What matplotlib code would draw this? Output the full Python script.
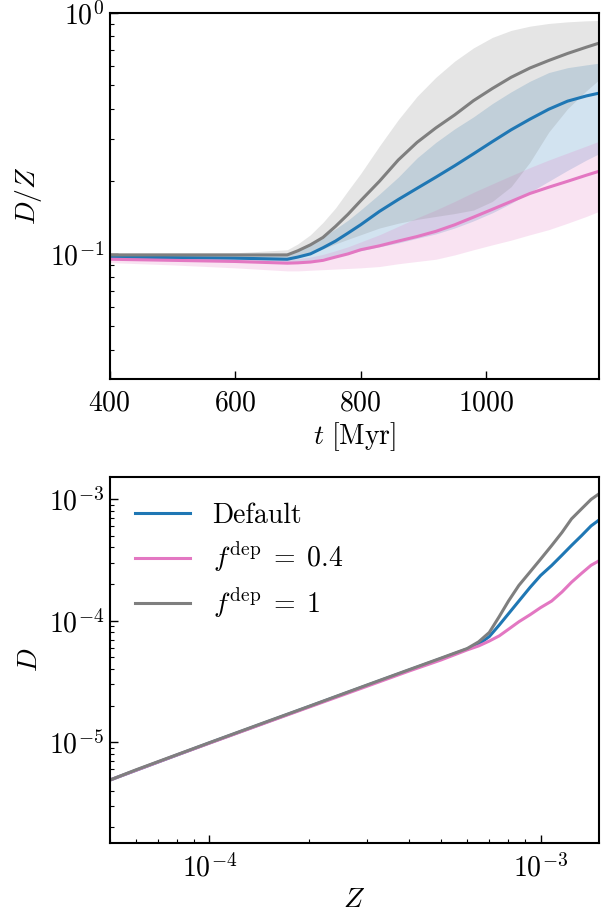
import matplotlib
matplotlib.use("Agg")
import matplotlib.pyplot as plt
import numpy as np

# --- top panel: D/Z vs time (median + 16-84 band) ---
t_myr = [400, 500, 600, 683, 700, 720, 740, 760, 780, 800, 830, 860, 890,
         920, 950, 980, 1010, 1040, 1070, 1100, 1130, 1160, 1180]

dz_default = [0.097, 0.0965, 0.096, 0.095, 0.097, 0.100, 0.106, 0.113, 0.122, 0.132,
              0.150, 0.168, 0.187, 0.208, 0.232, 0.260, 0.292, 0.327, 0.362, 0.398,
              0.430, 0.452, 0.464]
dz_default_lo = [0.095, 0.094, 0.093, 0.092, 0.0925, 0.094, 0.096, 0.098, 0.100, 0.103,
                 0.107, 0.111, 0.116, 0.121, 0.128, 0.137, 0.148, 0.162, 0.180, 0.200,
                 0.222, 0.245, 0.260]
dz_default_hi = [0.099, 0.099, 0.099, 0.1006, 0.104, 0.109, 0.118, 0.127, 0.138, 0.152,
                 0.177, 0.208, 0.250, 0.290, 0.330, 0.370, 0.420, 0.470, 0.520, 0.565,
                 0.592, 0.608, 0.618]

dz_f04 = [0.095, 0.094, 0.093, 0.0915, 0.0918, 0.0925, 0.094, 0.097, 0.100, 0.104,
          0.108, 0.113, 0.118, 0.124, 0.132, 0.142, 0.153, 0.165, 0.178, 0.189,
          0.200, 0.212, 0.220]
dz_f04_lo = [0.092, 0.090, 0.0875, 0.085, 0.085, 0.0855, 0.086, 0.0865, 0.087, 0.0875,
             0.0886, 0.091, 0.093, 0.095, 0.099, 0.104, 0.109, 0.114, 0.120, 0.126,
             0.134, 0.143, 0.150]
dz_f04_hi = [0.097, 0.096, 0.0955, 0.0948, 0.0955, 0.097, 0.0995, 0.103, 0.107, 0.112,
             0.120, 0.130, 0.141, 0.152, 0.165, 0.180, 0.195, 0.211, 0.228, 0.245,
             0.262, 0.280, 0.293]

dz_f1 = [0.099, 0.099, 0.099, 0.099, 0.103, 0.109, 0.117, 0.130, 0.146, 0.166,
         0.200, 0.245, 0.290, 0.333, 0.377, 0.432, 0.485, 0.540, 0.590, 0.634,
         0.678, 0.720, 0.748]
dz_f1_lo = [0.096, 0.096, 0.096, 0.096, 0.098, 0.101, 0.105, 0.110, 0.115, 0.120,
            0.128, 0.134, 0.139, 0.143, 0.147, 0.152, 0.165, 0.190, 0.240, 0.320,
            0.400, 0.475, 0.527]
dz_f1_hi = [0.101, 0.101, 0.101, 0.104, 0.110, 0.120, 0.135, 0.155, 0.183, 0.215,
            0.280, 0.360, 0.450, 0.540, 0.630, 0.715, 0.790, 0.845, 0.880, 0.903,
            0.917, 0.926, 0.929]

# --- bottom panel: D vs Z ---
z_vals = [5e-5, 6e-5, 7e-5, 8e-5, 1e-4, 1.5e-4, 2e-4, 3e-4, 4e-4, 5e-4, 6e-4,
          6.5e-4, 7e-4, 7.5e-4, 8e-4, 8.6e-4, 9.3e-4, 1.0e-3, 1.08e-3, 1.16e-3,
          1.24e-3, 1.33e-3, 1.42e-3, 1.5e-3]
d_default = [4.9e-6, 5.9e-6, 6.9e-6, 7.9e-6, 9.9e-6, 1.48e-5, 1.97e-5, 2.95e-5, 3.92e-5,
             4.88e-5, 5.85e-5, 6.4e-5, 7.4e-5, 9.2e-5, 1.14e-4, 1.45e-4, 1.88e-4,
             2.35e-4, 2.84e-4, 3.45e-4, 4.15e-4, 5.0e-4, 6.0e-4, 6.7e-4]
d_f04 = [4.9e-6, 5.9e-6, 6.9e-6, 7.9e-6, 9.85e-6, 1.47e-5, 1.95e-5, 2.9e-5, 3.85e-5,
         4.75e-5, 5.75e-5, 6.2e-5, 6.8e-5, 7.5e-5, 8.5e-5, 9.8e-5, 1.12e-4,
         1.28e-4, 1.45e-4, 1.72e-4, 2.07e-4, 2.45e-4, 2.85e-4, 3.1e-4]
d_f1 = [4.9e-6, 5.95e-6, 6.95e-6, 7.95e-6, 9.95e-6, 1.49e-5, 1.98e-5, 2.97e-5, 3.95e-5,
        4.92e-5, 5.9e-5, 6.7e-5, 8.0e-5, 1.08e-4, 1.45e-4, 1.95e-4, 2.52e-4,
        3.2e-4, 4.14e-4, 5.3e-4, 6.86e-4, 8.3e-4, 9.9e-4, 1.1e-3]

labels = ["Default", r"$f^{\rm dep}\;=\;0.4$", r"$f^{\rm dep}\;=\;1$"]
colors = ["#1f77b4", "#e377c2", "#7f7f7f"]

plt.rcParams.update({
    "font.family": "serif",
    "font.serif": ["cmr10"],
    "mathtext.fontset": "cm",
    "axes.unicode_minus": False,
    "axes.formatter.use_mathtext": True,
    "font.size": 20,
    "axes.linewidth": 1.5,
    "xtick.direction": "in",
    "ytick.direction": "in",
    "xtick.major.size": 6,
    "ytick.major.size": 6,
    "xtick.minor.size": 3,
    "ytick.minor.size": 3,
    "xtick.major.width": 1.0,
    "ytick.major.width": 1.0,
    "xtick.minor.width": 0.8,
    "ytick.minor.width": 0.8,
    "xtick.major.pad": 8,
    "ytick.major.pad": 4,
})

fig = plt.figure(figsize=(6.13, 9.13), dpi=100)
ax1 = fig.add_axes([0.179, 0.585, 0.798, 0.401])
ax2 = fig.add_axes([0.179, 0.077, 0.798, 0.400])

t = np.array(t_myr)
bands = [(dz_default, dz_default_lo, dz_default_hi),
         (dz_f04, dz_f04_lo, dz_f04_hi),
         (dz_f1, dz_f1_lo, dz_f1_hi)]
for (med, lo, hi), c in zip(bands, colors):
    ax1.fill_between(t, lo, hi, color=c, alpha=0.2, linewidth=0)
for (med, lo, hi), c in zip(bands, colors):
    ax1.plot(t, med, color=c, linewidth=2.2)
ax1.set_yscale("log")
ax1.set_xlim(400, 1180)
ax1.set_ylim(0.0303, 1.0)
ax1.set_xticks([400, 600, 800, 1000])
ax1.set_xlabel(r"$t\ [{\rm Myr}]$", labelpad=3)
ax1.set_ylabel(r"$D/Z$")

for d, c, lab in zip([d_default, d_f04, d_f1], colors, labels):
    ax2.plot(z_vals, d, color=c, linewidth=2.2, label=lab)
ax2.set_xscale("log")
ax2.set_yscale("log")
ax2.set_xlim(5e-5, 1.5e-3)
ax2.set_ylim(1.5e-6, 1.5e-3)
ax2.set_xlabel(r"$Z$", labelpad=3)
ax2.set_ylabel(r"$D$")
ax2.legend(loc="upper left", frameon=False, handlelength=2.0,
           handletextpad=0.8, labelspacing=0.4)

for ax in (ax1, ax2):
    ax.tick_params(which="both", top=False, right=False)

fig.savefig("out.png", dpi=100)
